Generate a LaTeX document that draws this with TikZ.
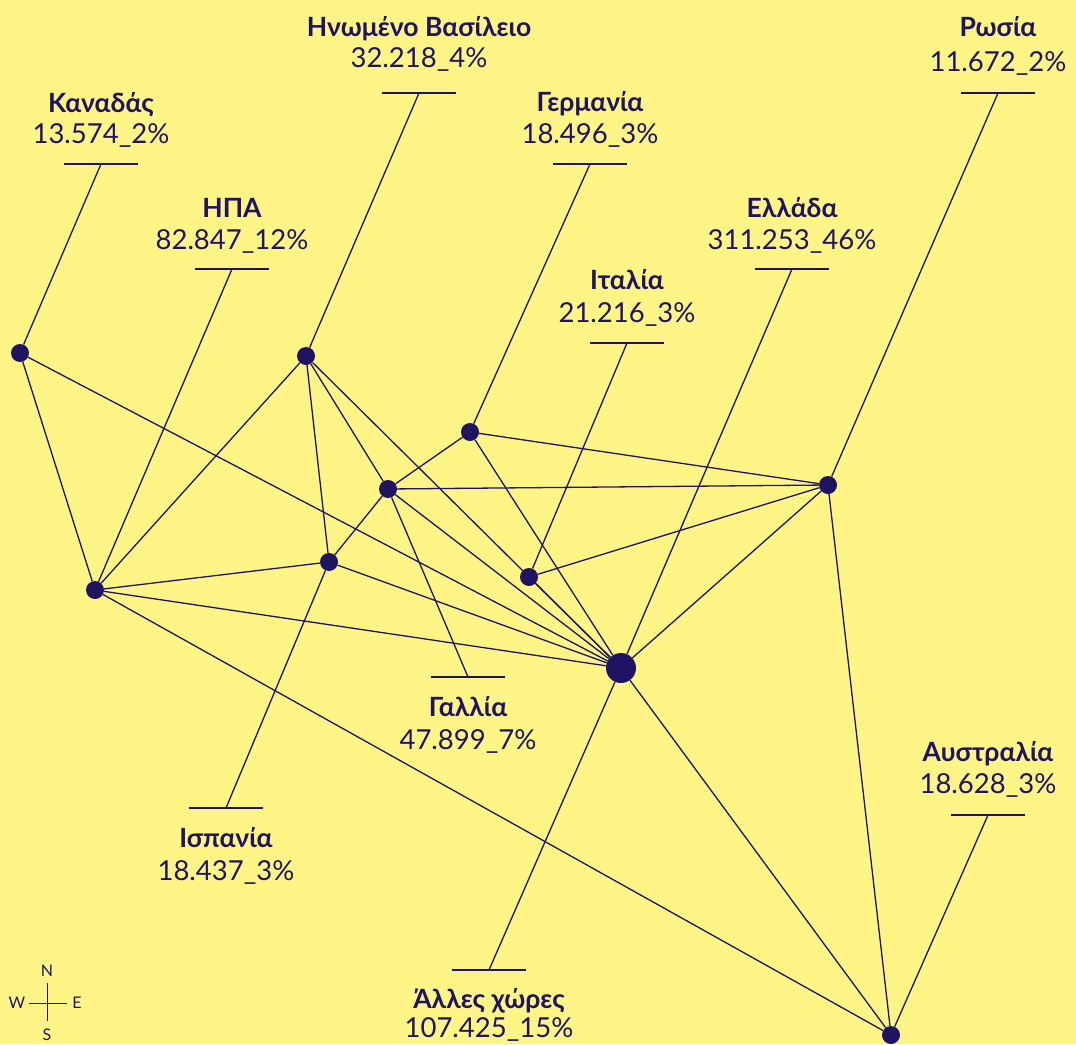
\documentclass[tikz,border=0pt]{standalone}
\usepackage{fontspec}
\setmainfont{Lato}
\definecolor{bgyellow}{HTML}{FFF586}
\definecolor{navy}{HTML}{1E1462}
\tikzset{
  dot/.style={circle,fill=navy,inner sep=0pt,minimum size=18pt},
  bigdot/.style={circle,fill=navy,inner sep=0pt,minimum size=30pt},
  link/.style={draw=navy,line width=1.3pt},
  cntry/.style={text=navy,anchor=base,inner sep=0pt,font=\bfseries\fontsize{26.5}{30}\selectfont},
  pct/.style={text=navy,anchor=base,inner sep=0pt,font=\fontsize{27.5}{31}\selectfont},
  compass/.style={text=navy,inner sep=0pt,font=\fontsize{16}{18}\selectfont},
}
\begin{document}
\begin{tikzpicture}[x=1pt,y=-1pt]
    \fill[bgyellow] (0,0) rectangle (1076,1044);
    \useasboundingbox (0,0) rectangle (1076,1044);

    % countries
    \node[dot] (can) at (20,353) {};
    \node[dot] (usa) at (95,590) {};
    \node[dot] (uk) at (306,356) {};
    \node[dot] (ger) at (470,432) {};
    \node[dot] (fra) at (388,489) {};
    \node[dot] (spa) at (329,562) {};
    \node[dot] (ita) at (529,577) {};
    \node[bigdot] (gre) at (621,668) {};
    \node[dot] (rus) at (828,485) {};
    \node[dot] (aus) at (891,1035) {};

    % label ticks
    \coordinate (canT) at (101,164);
    \coordinate (usaT) at (232,269);
    \coordinate (ukT) at (419,93);
    \coordinate (gerT) at (590,164);
    \coordinate (greT) at (792,269);
    \coordinate (itaT) at (627,343);
    \coordinate (rusT) at (998,93);
    \coordinate (fraT) at (468,677);
    \coordinate (spaT) at (226,808);
    \coordinate (ausT) at (988,815);
    \coordinate (othT) at (489,970);

    \node[cntry] (canN) at (101,112) {Καναδάς};
    \node[pct] (canV) at (101,143) {13.574\_2\%};
    \node[cntry] (usaN) at (232,217) {ΗΠΑ};
    \node[pct] (usaV) at (232,249) {82.847\_12\%};
    \node[cntry] (ukN) at (419,36) {Ηνωμένο Βασίλειο};
    \node[pct] (ukV) at (419,67) {32.218\_4\%};
    \node[cntry] (gerN) at (590,111) {Γερμανία};
    \node[pct] (gerV) at (590,143) {18.496\_3\%};
    \node[cntry] (greN) at (792,217) {Ελλάδα};
    \node[pct] (greV) at (792,249) {311.253\_46\%};
    \node[cntry] (itaN) at (627,289) {Ιταλία};
    \node[pct] (itaV) at (627,322) {21.216\_3\%};
    \node[cntry] (rusN) at (998,36) {Ρωσία};
    \node[pct] (rusV) at (998,71) {11.672\_2\%};
    \node[cntry] (fraN) at (468,716) {Γαλλία};
    \node[pct] (fraV) at (468,749) {47.899\_7\%};
    \node[cntry] (spaN) at (226,847) {Ισπανία};
    \node[pct] (spaV) at (226,880) {18.437\_3\%};
    \node[cntry] (ausN) at (988,761) {Αυστραλία};
    \node[pct] (ausV) at (988,793) {18.628\_3\%};
    \node[cntry] (othN) at (489,1008) {Άλλες χώρες};
    \node[pct] (othV) at (489,1037) {107.425\_15\%};

    % flows
    \foreach \a/\b in {can/usa,can/gre,uk/usa,uk/fra,uk/spa,uk/gre,ger/fra,ger/rus,ger/gre,
        fra/rus,fra/spa,fra/gre,spa/usa,spa/gre,usa/gre,usa/aus,ita/rus,ita/gre,rus/gre,rus/aus,gre/aus}
        \draw[link] (\a) -- (\b);

    % leaders
    \foreach \a in {can,usa,uk,ger,gre,ita,rus,fra,spa,aus}
        \draw[link] (\a) -- (\a T);
    \draw[link] (gre) -- (othT);
    \foreach \a in {can,usa,uk,ger,gre,ita,rus,fra,spa,aus,oth}
        \draw[link] ([xshift=-37pt]\a T) -- ([xshift=37pt]\a T);

    % compass
    \coordinate (cmp) at (47,1003);
    \draw[link,line width=1pt] ([xshift=-18pt]cmp) -- ([xshift=20pt]cmp);
    \draw[link,line width=1pt] ([yshift=-18pt]cmp) -- ([yshift=20pt]cmp);
    \node[compass] (cmpN) at (47,971) {N};
    \node[compass] (cmpS) at (47,1035) {S};
    \node[compass] (cmpW) at (17,1003) {W};
    \node[compass] (cmpE) at (77,1003) {E};
\end{tikzpicture}
\end{document}
